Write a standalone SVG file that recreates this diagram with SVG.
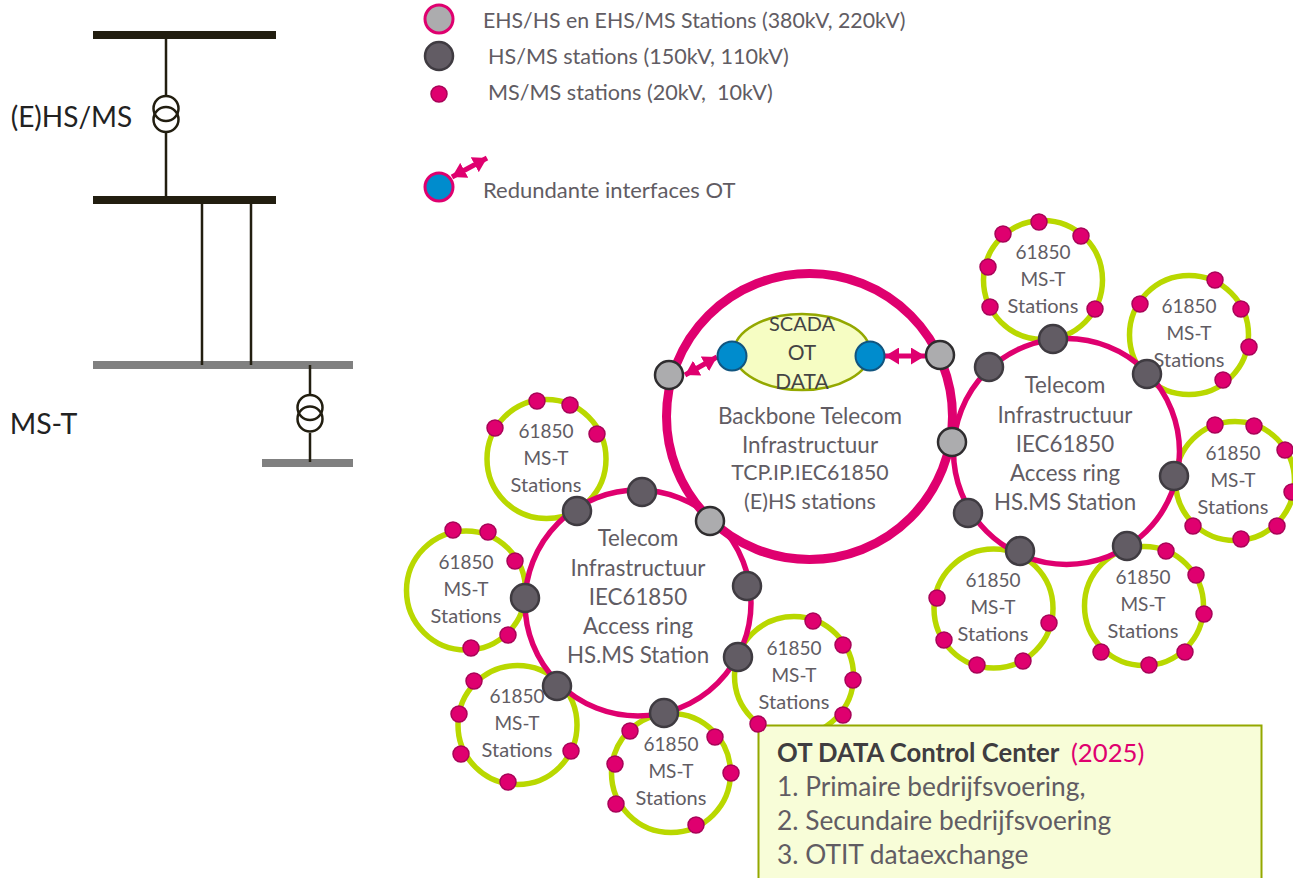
<svg xmlns="http://www.w3.org/2000/svg" width="1293" height="878" viewBox="0 0 1293 878">
<style>
text{font-family:Lato,"Open Sans","Liberation Sans",sans-serif;fill:#615c63;text-anchor:middle}
.ring{fill:none;stroke:#b9d800;stroke-width:5.500}
.acc{fill:none;stroke:#df006f;stroke-width:5.500}
.ms{fill:#df006f;stroke:#a80358;stroke-width:1.500}
.hs{fill:#625c64;stroke:#3f3b41;stroke-width:2.500}
.ehs{fill:#acacae;stroke:#2f2d2f;stroke-width:2.500}
.blue{fill:#008ccd;stroke:#11557f;stroke-width:2}
.bk{stroke:#221e10;fill:none;stroke-width:2.500}
.arr{stroke:#df006f;stroke-width:5;fill:none;marker-start:url(#ah);marker-end:url(#ah)}
.big{font-size:22.300px}
.s1{font-size:19px}.s2{font-size:20px}
.l{text-anchor:start}
.dk{fill:#444}
</style>
<defs>
<marker id="ah" viewBox="0 0 14 17" refX="14" refY="8.500" markerUnits="userSpaceOnUse" markerWidth="14" markerHeight="17" orient="auto-start-reverse"><path d="M0 0L14 8.500L0 17z" fill="#df006f"/></marker>
<g id="mst"><text class="s1" x="0" y="-21">61850</text><text class="s1" x="0" y="6">MS-T</text><text class="s2" x="0" y="33">Stations</text></g>
</defs>
<rect width="1293" height="878" fill="#fff"/>
<g id="single-line">
<rect x="93" y="31" width="183" height="8" fill="#221e10"/>
<rect x="93" y="196" width="183" height="8" fill="#221e10"/>
<rect x="93" y="361" width="260" height="8" fill="#808080"/>
<rect x="262" y="459" width="91" height="8" fill="#808080"/>
<path class="bk" d="M166 39V95M166 133V196M202 204V365M251 204V365M310 365V394M310 433V462"/>
<circle class="bk" cx="166" cy="108.500" r="12.500"/><circle class="bk" cx="166" cy="119.500" r="12.500"/>
<circle class="bk" cx="310" cy="407.500" r="12.500"/><circle class="bk" cx="310" cy="419" r="12.500"/>
<text x="71.500" y="127" font-size="28" style="fill:#222">(E)HS/MS</text>
<text x="43.500" y="434" font-size="28.500" style="fill:#222">MS-T</text>
</g>
<g id="legend">
<circle cx="439" cy="19" r="14" fill="#acacae" stroke="#df006f" stroke-width="3"/>
<circle class="hs" cx="439" cy="56" r="14"/>
<circle class="ms" cx="439" cy="94" r="8"/>
<circle cx="439" cy="187" r="14" fill="#008ccd" stroke="#df006f" stroke-width="3"/>
<line class="arr" x1="452" y1="177" x2="487" y2="158"/>
<text class="l" font-size="21.300" x="483" y="28">EHS/HS en EHS/MS Stations (380kV, 220kV)</text>
<text class="l" font-size="21.600" x="488" y="64">HS/MS stations (150kV, 110kV)</text>
<text class="l" font-size="21.600" x="488" y="100" style="white-space:pre">MS/MS stations (20kV,  10kV)</text>
<text class="l" font-size="22" x="483" y="198">Redundante interfaces OT</text>
</g>
<g id="connectors">
<circle class="ring" cx="1043" cy="280" r="59.500"/>
<circle class="ring" cx="1189" cy="335" r="59.500"/>
<circle class="ring" cx="1235" cy="481" r="59.500"/>
<circle class="ring" cx="993.500" cy="608.500" r="59.500"/>
<circle class="ring" cx="1144" cy="606" r="59.500"/>
<circle class="ring" cx="546.500" cy="459" r="59.500"/>
<circle class="ring" cx="466" cy="590.500" r="59.500"/>
<circle class="ring" cx="517.500" cy="725" r="59.500"/>
<circle class="ring" cx="671" cy="773" r="59.500"/>
<circle class="ring" cx="794" cy="676" r="59.500"/>
<circle class="acc" cx="1066.500" cy="451.500" r="113"/>
<circle class="acc" cx="638" cy="603" r="113"/>
<circle cx="809.500" cy="416.500" r="143" fill="#fff" stroke="#df006f" stroke-width="9"/>
<line class="arr" x1="685" y1="375" x2="717" y2="357"/>
<line class="arr" x1="885" y1="356" x2="925" y2="356"/>
</g>
<g id="control-center">
<rect x="758.500" y="725.500" width="503" height="170" fill="#f8fdd8" stroke="#94a800" stroke-width="2"/>
<text class="l" x="777" y="762" font-size="25.700" font-weight="700" style="fill:#3f3d40">OT DATA Control Center</text>
<text class="l" x="1071" y="762" font-size="25.700" style="fill:#df006f">(2025)</text>
<text class="l" x="777" y="796" font-size="26.300">1. Primaire bedrijfsvoering,</text>
<text class="l" x="777" y="830" font-size="26.300">2. Secundaire bedrijfsvoering</text>
<text class="l" x="777" y="864" font-size="26.300">3. OTIT dataexchange</text>
</g>
<g id="scada">
<ellipse cx="802" cy="352" rx="68" ry="38" fill="#f6fdc3" stroke="#94a800" stroke-width="2.500"/>
<circle class="blue" cx="732" cy="356" r="14.500"/><circle class="blue" cx="870" cy="356" r="14.500"/>
<text class="dk" font-size="20" x="802" y="331">SCADA</text>
<text class="dk" font-size="21" x="802" y="360">OT</text>
<text class="dk" font-size="21" x="802" y="389">DATA</text>
</g>
<g id="backbone">
<text font-size="22.500" x="810" y="424">Backbone Telecom</text>
<text font-size="22.500" x="810" y="453">Infrastructuur</text>
<text font-size="21.300" x="810" y="480">TCP.IP.IEC61850</text>
<text font-size="21.500" x="810" y="509">(E)HS stations</text>
</g>
<g id="access-right">
<text class="big" x="1065" y="393">Telecom</text><text class="big" x="1065" y="423">Infrastructuur</text><text class="big" x="1065" y="452">IEC61850</text><text class="big" x="1065" y="481">Access ring</text><text class="big" x="1065" y="510">HS.MS Station</text>
</g>
<g id="access-left">
<text class="big" x="638" y="546">Telecom</text><text class="big" x="638" y="576">Infrastructuur</text><text class="big" x="638" y="605">IEC61850</text><text class="big" x="638" y="634">Access ring</text><text class="big" x="638" y="663">HS.MS Station</text>
</g>
<g id="stations-text">
<use href="#mst" x="1043" y="280"/><use href="#mst" x="1189" y="334"/><use href="#mst" x="1233" y="481"/>
<use href="#mst" x="993" y="608"/><use href="#mst" x="1143" y="605"/><use href="#mst" x="546" y="459"/>
<use href="#mst" x="466" y="590"/><use href="#mst" x="517" y="724"/><use href="#mst" x="671" y="772"/><use href="#mst" x="794" y="676"/>
</g>
<g id="ms-stations">
<circle class="ms" cx="1039" cy="222" r="8"/><circle class="ms" cx="1003" cy="234" r="8"/><circle class="ms" cx="1081" cy="236" r="8"/><circle class="ms" cx="988" cy="267" r="8"/><circle class="ms" cx="990" cy="307" r="8"/><circle class="ms" cx="1095" cy="309" r="8"/>
<circle class="ms" cx="1215" cy="280" r="8"/><circle class="ms" cx="1140" cy="304" r="8"/><circle class="ms" cx="1241" cy="309" r="8"/><circle class="ms" cx="1249" cy="347" r="8"/><circle class="ms" cx="1223" cy="380" r="8"/>
<circle class="ms" cx="1215" cy="425" r="8"/><circle class="ms" cx="1254" cy="426" r="8"/><circle class="ms" cx="1285" cy="450" r="8"/><circle class="ms" cx="1292" cy="492" r="8"/><circle class="ms" cx="1277" cy="526" r="8"/><circle class="ms" cx="1241" cy="539" r="8"/><circle class="ms" cx="1193" cy="526" r="8"/>
<circle class="ms" cx="937" cy="598" r="8"/><circle class="ms" cx="944" cy="640" r="8"/><circle class="ms" cx="977" cy="665" r="8"/><circle class="ms" cx="1023" cy="661" r="8"/><circle class="ms" cx="1049" cy="623" r="8"/>
<circle class="ms" cx="1166" cy="551" r="8"/><circle class="ms" cx="1196" cy="575" r="8"/><circle class="ms" cx="1204" cy="614" r="8"/><circle class="ms" cx="1185" cy="652" r="8"/><circle class="ms" cx="1149" cy="665" r="8"/><circle class="ms" cx="1101" cy="652" r="8"/>
<circle class="ms" cx="537" cy="401" r="8"/><circle class="ms" cx="570" cy="405" r="8"/><circle class="ms" cx="597" cy="434" r="8"/><circle class="ms" cx="495" cy="428" r="8"/>
<circle class="ms" cx="453" cy="530" r="8"/><circle class="ms" cx="488" cy="532" r="8"/><circle class="ms" cx="515" cy="561" r="8"/><circle class="ms" cx="508" cy="635" r="8"/><circle class="ms" cx="471" cy="648" r="8"/>
<circle class="ms" cx="474" cy="681" r="8"/><circle class="ms" cx="459" cy="714" r="8"/><circle class="ms" cx="461" cy="754" r="8"/><circle class="ms" cx="508" cy="782" r="8"/><circle class="ms" cx="571" cy="751" r="8"/>
<circle class="ms" cx="630" cy="731" r="8"/><circle class="ms" cx="715" cy="737" r="8"/><circle class="ms" cx="731" cy="773" r="8"/><circle class="ms" cx="696" cy="825" r="8"/><circle class="ms" cx="616" cy="804" r="8"/><circle class="ms" cx="615" cy="764" r="8"/>
<circle class="ms" cx="813" cy="621" r="8"/><circle class="ms" cx="843" cy="645" r="8"/><circle class="ms" cx="853" cy="680" r="8"/><circle class="ms" cx="843" cy="715" r="8"/><circle class="ms" cx="758" cy="724" r="8"/>
</g>
<g id="hs-stations">
<circle class="hs" cx="1053" cy="339" r="14"/><circle class="hs" cx="1147" cy="374" r="14"/><circle class="hs" cx="1174" cy="476" r="14"/><circle class="hs" cx="1127" cy="546" r="14"/><circle class="hs" cx="1020" cy="551" r="14"/><circle class="hs" cx="968" cy="513" r="14"/><circle class="hs" cx="989" cy="367" r="14"/>
<circle class="hs" cx="642" cy="492" r="14"/><circle class="hs" cx="577" cy="511" r="14"/><circle class="hs" cx="525" cy="598" r="14"/><circle class="hs" cx="557" cy="686" r="14"/><circle class="hs" cx="664" cy="713" r="14"/><circle class="hs" cx="738" cy="657" r="14"/><circle class="hs" cx="747" cy="586" r="14"/>
</g>
<g id="ehs-stations">
<circle class="ehs" cx="669" cy="375" r="14"/><circle class="ehs" cx="940" cy="355" r="14"/><circle class="ehs" cx="952" cy="442" r="14"/><circle class="ehs" cx="710" cy="521" r="14"/>
</g>
</svg>
